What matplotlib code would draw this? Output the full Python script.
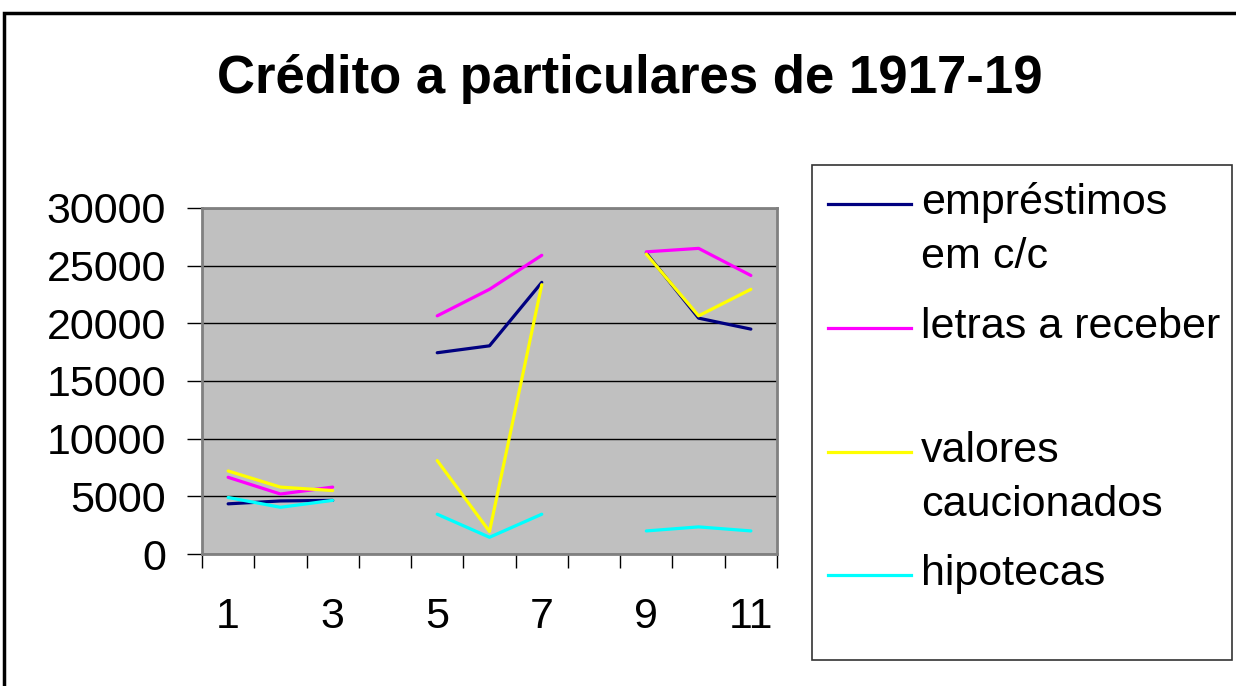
import numpy as np
import matplotlib.pyplot as plt
from matplotlib.lines import Line2D
from matplotlib.patches import Rectangle

plt.rcParams['font.family'] = ['Liberation Sans', 'DejaVu Sans']

# categorias 1..11 (4 e 8 sem dados)
meses = np.arange(1, 12)
nan = np.nan
emprestimos = [4350, 4600, 4650, nan, 17450, 18050, 23550, nan, 26100, 20450, 19500]
letras = [6650, 5200, 5800, nan, 20650, 22950, 25900, nan, 26200, 26500, 24150]
valores = [7200, 5800, 5500, nan, 8100, 1950, 23350, nan, 26000, 20650, 22950]
hipotecas = [4900, 4050, 4650, nan, 3450, 1450, 3450, nan, 2000, 2350, 2000]

series = [
    ("empréstimos\nem c/c", emprestimos, "#000080"),
    ("letras a receber", letras, "#FF00FF"),
    ("valores\ncaucionados", valores, "#FFFF00"),
    ("hipotecas", hipotecas, "#00FFFF"),
]

W, H = 1236, 686
fig = plt.figure(figsize=(W / 100, H / 100), dpi=100)
ax = fig.add_axes([202 / W, 1 - 554 / H, 575 / W, 346 / H])
ax.set_facecolor("#c0c0c0")

for nome, vals, cor in series:
    ax.plot(meses, vals, color=cor, lw=2.3, solid_capstyle="round")

ax.set_xlim(0.5, 11.5)
ax.set_ylim(0, 30000)
ax.set_yticks(range(0, 30001, 5000))
ax.yaxis.grid(True, color="black", lw=1)
ax.set_axisbelow(True)

ax.set_xticks([1, 3, 5, 7, 9, 11])
ax.set_xticks(np.arange(0.5, 12, 1), minor=True)
ax.tick_params(axis="x", which="major", length=0, pad=31, labelsize=31)
ax.tick_params(axis="x", which="minor", length=10, width=1, color="black")
ax.tick_params(axis="y", length=11, width=1, color="black", pad=15, labelsize=31)

for s in ax.spines.values():
    s.set_color("#808080")
    s.set_linewidth(2)

# título
fig.text(630 / W, 1 - 93 / H, "Crédito a particulares de 1917-19",
         ha="center", va="baseline", fontsize=38, fontweight="bold")

# legenda ao estilo Excel
fig.patches.append(Rectangle((812 / W, 1 - 660 / H), 420 / W, 495 / H,
                             transform=fig.transFigure, fill=False,
                             edgecolor="#333333", lw=1.2))
linhas_y = [204, 328, 452, 575]
for (nome, vals, cor), yl in zip(series, linhas_y):
    fig.lines.append(Line2D([828 / W, 911 / W], [1 - yl / H, 1 - yl / H],
                            transform=fig.transFigure, color=cor, lw=2.3))
    partes = nome.split("\n")
    for k, parte in enumerate(partes):
        fig.text(921 / W, 1 - (yl + 10 + 54 * k) / H, parte,
                 va="baseline", ha="left", fontsize=31)

# moldura exterior
fig.patches.append(Rectangle((4 / W, -0.1), 1.2, 1.1 - 13 / H,
                             transform=fig.transFigure, fill=False,
                             edgecolor="black", lw=2.5))

fig.savefig("out.png", dpi=100)
